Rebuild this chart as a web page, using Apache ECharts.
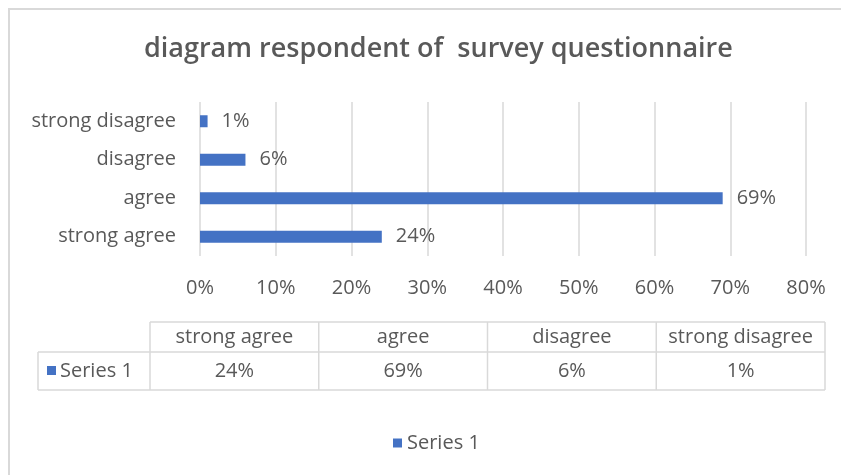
<!DOCTYPE html>
<html>
<head>
<meta charset="utf-8">
<script src="https://cdn.jsdelivr.net/npm/echarts@6/dist/echarts.min.js"></script>
<style>
  html, body { margin: 0; padding: 0; background: #fff; }
  #chart { width: 841px; height: 475px; }
</style>
</head>
<body>
<div id="chart"></div>
<script>
// data
var categories = ['strong agree', 'agree', 'disagree', 'strong disagree'];
var seriesName = 'Series 1';
var values = [24, 69, 6, 1];
var axisMax = 80;
var axisStep = 10;

var FONT = 'Open Sans';
var FS = 20;
var TXT = '#595959';
var LINE = '#d9d9d9';
var BLUE = '#4472c4';

var myChart = echarts.init(document.getElementById('chart'));

// data table under the chart (Excel style)
var tbl = { left: 150, right: 825, head: 322, mid: 352, bottom: 390, first: 38 };
function tableGraphics() {
    var els = [];
    var colW = (tbl.right - tbl.left) / categories.length;
    var lineStyle = { stroke: LINE, lineWidth: 1.5 };
    var font = FS + 'px "' + FONT + '"';
    // horizontal lines
    els.push({ type: 'line', shape: { x1: tbl.left, y1: tbl.head, x2: tbl.right, y2: tbl.head }, style: lineStyle });
    els.push({ type: 'line', shape: { x1: tbl.first, y1: tbl.mid, x2: tbl.right, y2: tbl.mid }, style: lineStyle });
    els.push({ type: 'line', shape: { x1: tbl.first, y1: tbl.bottom, x2: tbl.right, y2: tbl.bottom }, style: lineStyle });
    // vertical lines
    els.push({ type: 'line', shape: { x1: tbl.first, y1: tbl.mid, x2: tbl.first, y2: tbl.bottom }, style: lineStyle });
    for (var i = 0; i <= categories.length; i++) {
        var x = tbl.left + i * colW;
        els.push({ type: 'line', shape: { x1: x, y1: tbl.head, x2: x, y2: tbl.bottom }, style: lineStyle });
    }
    for (var j = 0; j < categories.length; j++) {
        var cx = tbl.left + (j + 0.5) * colW;
        els.push({ type: 'text', x: cx, y: (tbl.head + tbl.mid) / 2,
            style: { text: categories[j], fill: TXT, font: font, align: 'center', verticalAlign: 'middle' } });
        els.push({ type: 'text', x: cx, y: (tbl.mid + tbl.bottom) / 2,
            style: { text: values[j] + '%', fill: TXT, font: font, align: 'center', verticalAlign: 'middle' } });
    }
    // series key in the first column
    els.push({ type: 'rect', shape: { x: 47, y: 366, width: 9, height: 9 }, style: { fill: BLUE } });
    els.push({ type: 'text', x: 60, y: (tbl.mid + tbl.bottom) / 2,
        style: { text: seriesName, fill: TXT, font: font, align: 'left', verticalAlign: 'middle' } });
    // outer chart border
    els.push({ type: 'rect', shape: { x: 9, y: 9, width: 900, height: 600 }, style: { fill: null, stroke: LINE, lineWidth: 2 }, z: -1 });
    return els;
}

var option = {
    backgroundColor: '#fff',
    animation: false,
    title: {
        text: 'diagram respondent of  survey questionnaire',
        left: 139,
        top: 31,
        textStyle: { color: TXT, fontFamily: FONT, fontSize: 27, fontWeight: 600 }
    },
    legend: {
        data: [seriesName],
        left: 388,
        top: 428,
        icon: 'rect',
        itemWidth: 9,
        itemHeight: 9,
        itemGap: 5,
        textStyle: { color: TXT, fontFamily: FONT, fontSize: FS }
    },
    grid: { left: 200, right: 35, top: 102, height: 154, containLabel: false },
    xAxis: {
        type: 'value',
        min: 0,
        max: axisMax,
        interval: axisStep,
        axisLine: { show: false },
        axisTick: { show: false },
        axisLabel: { formatter: '{value}%', color: TXT, fontFamily: FONT, fontSize: FS, margin: 22 },
        splitLine: { lineStyle: { color: LINE, width: 1.5 } }
    },
    yAxis: {
        type: 'category',
        data: categories,
        axisLine: { show: false },
        axisTick: { show: false },
        axisLabel: { color: TXT, fontFamily: FONT, fontSize: FS, margin: 24 }
    },
    series: [{
        name: seriesName,
        type: 'bar',
        data: values,
        barWidth: 12,
        itemStyle: { color: BLUE },
        label: {
            show: true,
            position: 'right',
            distance: 14,
            formatter: '{c}%',
            color: TXT,
            fontFamily: FONT,
            fontSize: FS
        }
    }],
    graphic: tableGraphics()
};

myChart.setOption(option);
</script>
</body>
</html>
